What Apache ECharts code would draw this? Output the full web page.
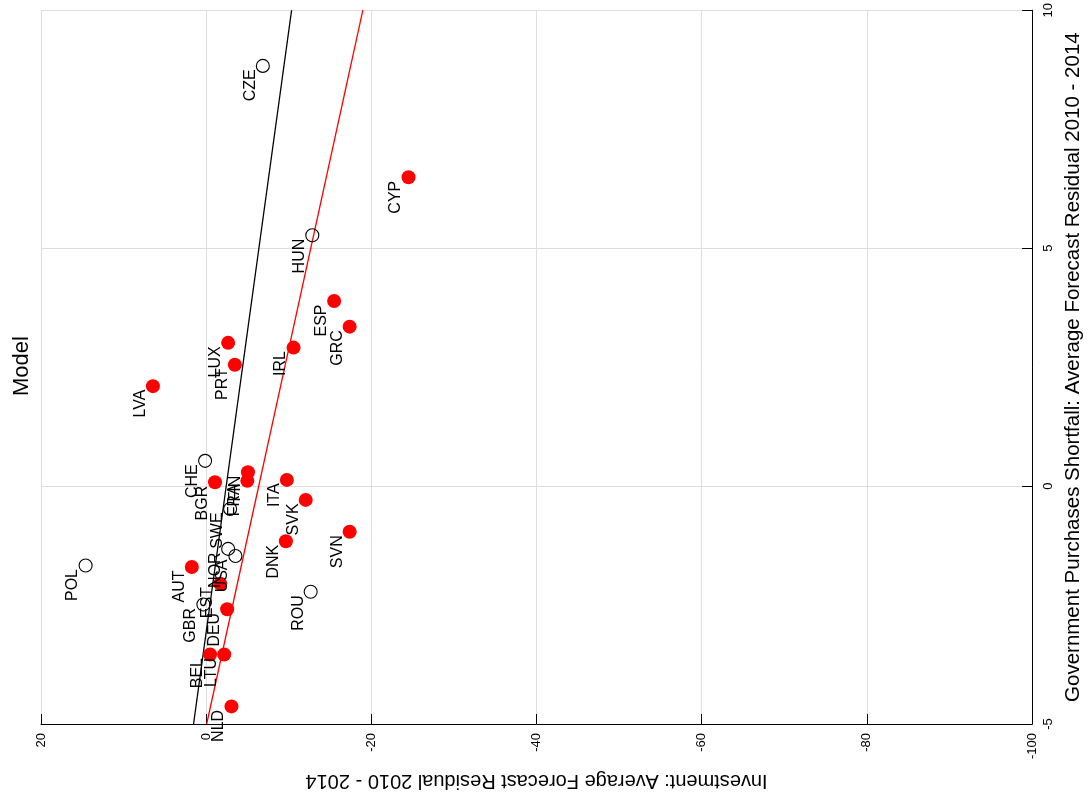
<!DOCTYPE html>
<html>
<head>
<meta charset="utf-8">
<script src="https://cdn.jsdelivr.net/npm/echarts@6/dist/echarts.min.js"></script>
<style>
html,body{margin:0;padding:0;background:#fff;}
#chart{width:1092px;height:796px;}
</style>
</head>
<body>
<div id="chart"></div>
<script>
// ---- data (x: investment residual, y: government purchases shortfall) ----
const hollowNames = ['CZE','HUN','CHE','POL','ROU','SWE','NOR','USA','GBR'];
const hollowInv   = [-6.86, -12.85, 0.13, 14.6, -12.65, -2.9, -2.66, -3.54, 0.34];
const hollowGov   = [8.83, 5.27, 0.53, -1.67, -2.22, -0.48, -1.32, -1.47, -2.49];

const redNames = ['CYP','ESP','GRC','IRL','LUX','PRT','LVA','BGR','FIN','FRA','ITA','SVK','DNK','SVN','AUT','EST','DEU','BEL','LTU','NLD'];
const redInv   = [-24.5, -15.49, -17.37, -10.58, -2.66, -3.47, 6.45, -1.07, -5.06, -4.98, -9.77, -12.05, -9.65, -17.37, 1.74, -1.70, -2.54, -0.47, -2.18, -3.06];
const redGov   = [6.49, 3.89, 3.35, 2.91, 3.01, 2.55, 2.10, 0.08, 0.29, 0.11, 0.13, -0.29, -1.16, -0.96, -1.70, -2.05, -2.59, -3.54, -3.54, -4.63];

const blackFitInv = [1.53, -10.34];
const blackFitGov = [-5, 10];
const redFitInv   = [-0.06, -18.97];
const redFitGov   = [-5, 10];

const xTicks = [-100, -80, -60, -40, -20, 0, 20];
const yTicks = [-5, 0, 5, 10];

const xTitle = 'Investment: Average Forecast Residual 2010 - 2014';
const yTitle = 'Government Purchases Shortfall: Average Forecast Residual 2010 - 2014';
const chartTitle = 'Model';

// ---- build ----
const FONT = 'Liberation Sans, Arial, Helvetica, sans-serif';
function pts(names, xs, ys){ return names.map((n,i)=>({name:n, value:[xs[i], ys[i]]})); }
function line(xs, ys){ return xs.map((x,i)=>[x, ys[i]]); }

const labelCfg = {
  show: true, formatter: '{b}', rotate: 90,
  position: [-5.5, 10.5], align: 'right', verticalAlign: 'middle',
  fontSize: 16, color: '#000', fontFamily: FONT
};

const chart = echarts.init(document.getElementById('chart'), null, {renderer:'canvas'});
chart.setOption({
  animation: false,
  backgroundColor: '#fff',
  grid: {left: 41, right: 46, top: 9, bottom: 70, containLabel: false},
  xAxis: {
    type: 'value', inverse: true, position: 'bottom',
    min: xTicks[0], max: xTicks[xTicks.length-1], interval: 20,
    axisLine: {show: true, onZero: false, lineStyle: {color: '#000', width: 1}},
    axisTick: {show: true, inside: true, length: 10, lineStyle: {color: '#000'}},
    axisLabel: {rotate: 90, fontSize: 13, color: '#000', margin: 9, fontFamily: FONT},
    splitLine: {show: true, lineStyle: {color: '#dedede', width: 1}},
    name: xTitle, nameLocation: 'middle', nameRotate: 180, nameGap: 47,
    nameTextStyle: {fontSize: 20, color: '#000', fontFamily: FONT}
  },
  yAxis: {
    type: 'value', position: 'right',
    min: yTicks[0], max: yTicks[yTicks.length-1], interval: 5,
    axisLine: {show: true, onZero: false, lineStyle: {color: '#000', width: 1}},
    axisTick: {show: true, inside: true, length: 10, lineStyle: {color: '#000'}},
    axisLabel: {rotate: 90, fontSize: 13, color: '#000', margin: 10, fontFamily: FONT},
    splitLine: {show: true, lineStyle: {color: '#dedede', width: 1}},
    name: yTitle, nameLocation: 'middle', nameRotate: 90, nameGap: 27,
    nameTextStyle: {fontSize: 20.5, color: '#000', fontFamily: FONT}
  },
  graphic: [{
    type: 'text', x: 22, y: 366, rotation: Math.PI/2,
    style: {text: chartTitle, fontSize: 22, fontFamily: FONT, fill: '#000', textAlign: 'center', textVerticalAlign: 'middle'}
  }],
  series: [
    {type: 'line', data: line(blackFitInv, blackFitGov), symbol: 'none', lineStyle: {color: '#000', width: 1.3}, z: 2, silent: true},
    {type: 'line', data: line(redFitInv, redFitGov), symbol: 'none', lineStyle: {color: '#ff0000', width: 1.3}, z: 2, silent: true},
    {type: 'scatter', data: pts(hollowNames, hollowInv, hollowGov), symbol: 'circle', symbolSize: 13,
     itemStyle: {color: 'rgba(0,0,0,0)', borderColor: '#000', borderWidth: 1.1, opacity: 1}, label: labelCfg, z: 3},
    {type: 'scatter', data: pts(redNames, redInv, redGov), symbol: 'circle', symbolSize: 14,
     itemStyle: {color: '#ff0000', opacity: 1}, label: labelCfg, z: 3}
  ]
});
</script>
</body>
</html>
